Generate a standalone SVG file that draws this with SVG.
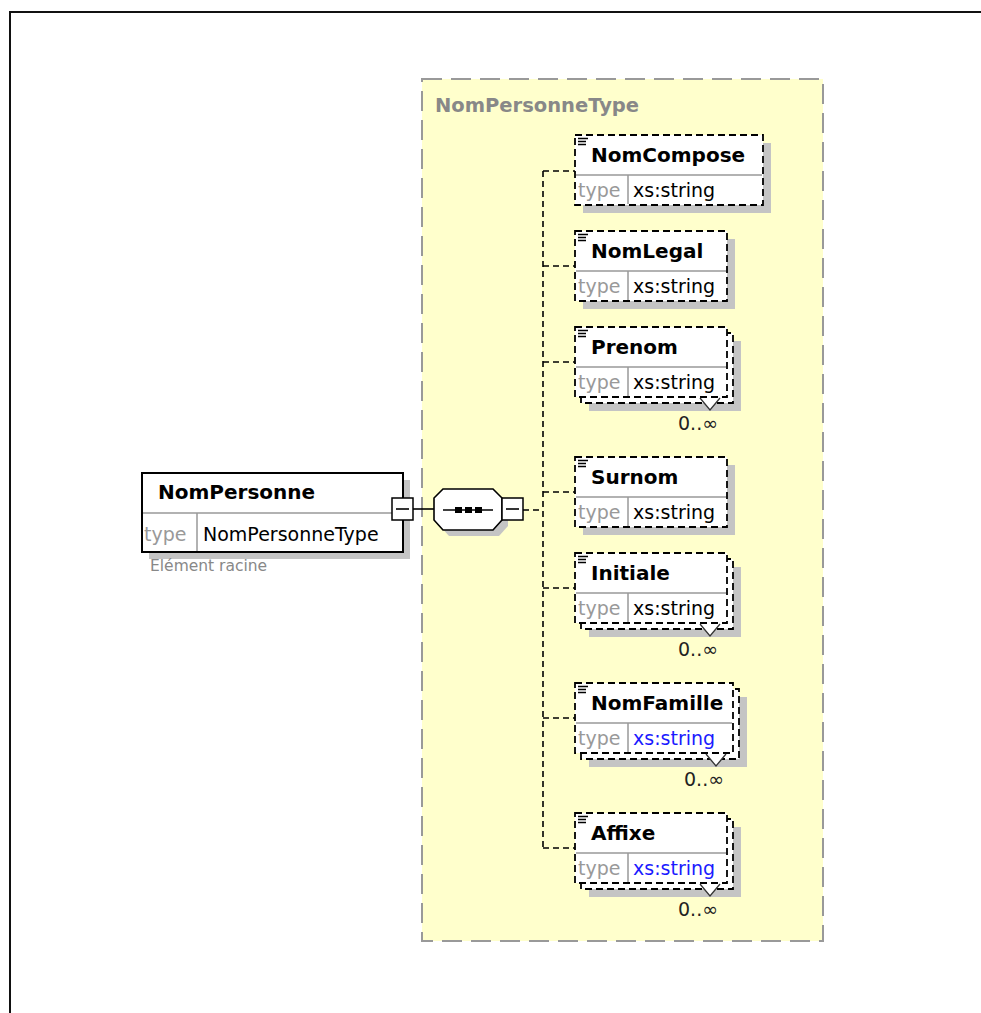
<svg xmlns="http://www.w3.org/2000/svg" width="981" height="1013" viewBox="0 0 981 1013">
<style>
.frame{fill:none;stroke:#111;stroke-width:2}
.typebox{fill:#ffffcc;stroke:#999;stroke-width:2;stroke-dasharray:20 9}
.shadow{fill:#c4c4c4}
.el{fill:#fff;stroke:#000;stroke-width:1.8;stroke-dasharray:7 4}
.root{fill:#fff;stroke:#000;stroke-width:2}
.sep{stroke:#999;stroke-width:1.5}
.conn{stroke:#000;stroke-width:1.6;stroke-dasharray:6 4;fill:none}
.solid{stroke:#000;stroke-width:1.6;fill:none}
.icon{stroke:#000;stroke-width:1.4}
.chev{fill:#fff;stroke:#333;stroke-width:1.3}
.b{font-family:"DejaVu Sans",Verdana,sans-serif;font-weight:bold;font-size:20px;fill:#000}
.r{font-family:"DejaVu Sans",Verdana,sans-serif;font-size:19px;fill:#000}
.g{fill:#999}
.blue{fill:#1a1aff}
.ttl{font-family:"DejaVu Sans",Verdana,sans-serif;font-weight:bold;font-size:19.5px;fill:#888}
.note{font-family:"DejaVu Sans",Verdana,sans-serif;font-size:15.5px;fill:#888}
.occ{font-family:"DejaVu Sans",Verdana,sans-serif;font-size:19px;fill:#222;text-anchor:end}
</style>
<rect class="frame" x="10" y="12" width="1000" height="1050"/>

<g id="NomPersonneType">
<rect class="typebox" x="422" y="79" width="401" height="862"/>
<text class="ttl" x="435" y="112">NomPersonneType</text>
</g>

<g id="connectors">
<line class="solid" x1="413" y1="509" x2="434" y2="509"/>
<line class="conn" x1="523" y1="510" x2="543" y2="510"/>
<line class="conn" x1="543" y1="171" x2="543" y2="848"/>
<line class="conn" x1="543" y1="171" x2="575" y2="171"/>
<line class="conn" x1="543" y1="266" x2="575" y2="266"/>
<line class="conn" x1="543" y1="362" x2="575" y2="362"/>
<line class="conn" x1="543" y1="492" x2="575" y2="492"/>
<line class="conn" x1="543" y1="588" x2="575" y2="588"/>
<line class="conn" x1="543" y1="718" x2="575" y2="718"/>
<line class="conn" x1="543" y1="848" x2="575" y2="848"/>
</g>

<g id="NomPersonne" transform="translate(142,473)">
<rect class="shadow" x="7" y="7" width="261" height="79"/>
<rect class="root" x="0" y="0" width="261" height="79"/>
<line class="sep" x1="1" y1="40" x2="260" y2="40"/>
<line class="sep" x1="55" y1="40" x2="55" y2="78"/>
<text class="b" x="16" y="26">NomPersonne</text>
<text class="r g" x="2" y="68">type</text>
<text class="r" x="61" y="68">NomPersonneType</text>
<text class="note" x="8" y="98">Elément racine</text>
<rect x="250" y="25" width="21" height="22" fill="#fff" stroke="#000" stroke-width="1.5"/>
<line class="solid" x1="254" y1="36" x2="267" y2="36"/>
</g>

<g id="sequence">
<polygon class="shadow" points="449,495 499,495 508,504 508,526 499,536 449,536 440,526 440,504"/>
<polygon points="443,489 493,489 502,498 502,520 493,530 443,530 434,520 434,498" fill="#fff" stroke="#000" stroke-width="1.6"/>
<line class="solid" x1="443" y1="510" x2="493" y2="510"/>
<rect x="455" y="507" width="7" height="6" fill="#000"/>
<rect x="465" y="507" width="7" height="6" fill="#000"/>
<rect x="475" y="507" width="7" height="6" fill="#000"/>
<rect x="502" y="498" width="21" height="22" fill="#fff" stroke="#000" stroke-width="1.5"/>
<line class="solid" x1="506" y1="509" x2="519" y2="509"/>
</g>

<g id="NomCompose" transform="translate(575,135)">
<rect class="shadow" x="8" y="8" width="188" height="70"/>
<rect class="el" x="0" y="0" width="188" height="70"/>
<line class="sep" x1="1" y1="40" x2="187" y2="40"/>
<line class="sep" x1="53" y1="40" x2="53" y2="69"/>
<path class="icon" d="M3 3.5h10M3 6.5h8M3 9.5h8"/>
<text class="b" x="16" y="27">NomCompose</text>
<text class="r g" x="3" y="62">type</text>
<text class="r" x="58" y="62">xs:string</text>
</g>

<g id="NomLegal" transform="translate(575,231)">
<rect class="shadow" x="8" y="8" width="152" height="70"/>
<rect class="el" x="0" y="0" width="152" height="70"/>
<line class="sep" x1="1" y1="40" x2="151" y2="40"/>
<line class="sep" x1="53" y1="40" x2="53" y2="69"/>
<path class="icon" d="M3 3.5h10M3 6.5h8M3 9.5h8"/>
<text class="b" x="16" y="27">NomLegal</text>
<text class="r g" x="3" y="62">type</text>
<text class="r" x="58" y="62">xs:string</text>
</g>

<g id="Prenom" transform="translate(575,327)">
<rect class="shadow" x="14" y="14" width="152" height="70"/>
<rect class="el" x="6" y="6" width="152" height="70"/>
<rect class="el" x="0" y="0" width="152" height="70"/>
<line class="sep" x1="1" y1="40" x2="151" y2="40"/>
<line class="sep" x1="53" y1="40" x2="53" y2="69"/>
<path class="icon" d="M3 3.5h10M3 6.5h8M3 9.5h8"/>
<text class="b" x="16" y="27">Prenom</text>
<text class="r g" x="3" y="62">type</text>
<text class="r" x="58" y="62">xs:string</text>
<polyline class="chev" points="125,71 135,83 145,71"/>
<text class="occ" x="143" y="103">0..∞</text>
</g>

<g id="Surnom" transform="translate(575,457)">
<rect class="shadow" x="8" y="8" width="152" height="70"/>
<rect class="el" x="0" y="0" width="152" height="70"/>
<line class="sep" x1="1" y1="40" x2="151" y2="40"/>
<line class="sep" x1="53" y1="40" x2="53" y2="69"/>
<path class="icon" d="M3 3.5h10M3 6.5h8M3 9.5h8"/>
<text class="b" x="16" y="27">Surnom</text>
<text class="r g" x="3" y="62">type</text>
<text class="r" x="58" y="62">xs:string</text>
</g>

<g id="Initiale" transform="translate(575,553)">
<rect class="shadow" x="14" y="14" width="152" height="70"/>
<rect class="el" x="6" y="6" width="152" height="70"/>
<rect class="el" x="0" y="0" width="152" height="70"/>
<line class="sep" x1="1" y1="40" x2="151" y2="40"/>
<line class="sep" x1="53" y1="40" x2="53" y2="69"/>
<path class="icon" d="M3 3.5h10M3 6.5h8M3 9.5h8"/>
<text class="b" x="16" y="27">Initiale</text>
<text class="r g" x="3" y="62">type</text>
<text class="r" x="58" y="62">xs:string</text>
<polyline class="chev" points="125,71 135,83 145,71"/>
<text class="occ" x="143" y="103">0..∞</text>
</g>

<g id="NomFamille" transform="translate(575,683)">
<rect class="shadow" x="14" y="14" width="158" height="70"/>
<rect class="el" x="6" y="6" width="158" height="70"/>
<rect class="el" x="0" y="0" width="158" height="70"/>
<line class="sep" x1="1" y1="40" x2="157" y2="40"/>
<line class="sep" x1="53" y1="40" x2="53" y2="69"/>
<path class="icon" d="M3 3.5h10M3 6.5h8M3 9.5h8"/>
<text class="b" x="16" y="27">NomFamille</text>
<text class="r g" x="3" y="62">type</text>
<text class="r blue" x="58" y="62">xs:string</text>
<polyline class="chev" points="131,71 141,83 151,71"/>
<text class="occ" x="149" y="103">0..∞</text>
</g>

<g id="Affixe" transform="translate(575,813)">
<rect class="shadow" x="14" y="14" width="152" height="70"/>
<rect class="el" x="6" y="6" width="152" height="70"/>
<rect class="el" x="0" y="0" width="152" height="70"/>
<line class="sep" x1="1" y1="40" x2="151" y2="40"/>
<line class="sep" x1="53" y1="40" x2="53" y2="69"/>
<path class="icon" d="M3 3.5h10M3 6.5h8M3 9.5h8"/>
<text class="b" x="16" y="27">Affixe</text>
<text class="r g" x="3" y="62">type</text>
<text class="r blue" x="58" y="62">xs:string</text>
<polyline class="chev" points="125,71 135,83 145,71"/>
<text class="occ" x="143" y="103">0..∞</text>
</g>
</svg>
